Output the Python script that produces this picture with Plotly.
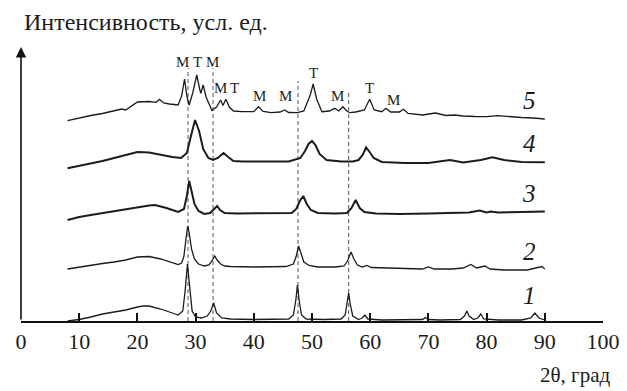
import plotly.graph_objects as go

# ---- data (intensity in arbitrary units, curves already offset) ----
x1 = [8, 10, 12, 14, 16, 18, 20, 21, 22, 24, 26, 27, 27.8, 28.2, 28.6, 29.0, 29.4, 30, 31, 32, 32.6, 33.1, 33.6, 34.5, 36, 40, 44, 46, 46.8, 47.2, 47.5, 47.8, 48.2, 49, 52, 55, 55.7, 56.0, 56.3, 56.6, 57.0, 58, 58.6, 59.1, 59.6, 62, 66, 69, 69.5, 70, 72, 75.5, 76.2, 76.6, 77.0, 77.8, 78.5, 79.0, 79.5, 82, 86, 87.6, 88.3, 89.0, 90]
y1 = [0, 1.5, 4, 7, 9, 11, 14, 15, 15, 12, 8, 6, 10, 30, 57, 30, 10, 4, 3, 5, 10, 18, 8, 3, 2, 1.5, 1.5, 2, 6, 20, 36, 20, 6, 2, 1.5, 2, 6, 16, 28, 16, 5, 1.5, 3, 6, 2, 1, 1, 1.5, 3.5, 1.5, 1, 1.5, 5, 10, 5, 1.5, 3, 7, 2, 1, 1, 3, 8, 3, 1]

x2 = [8, 10, 12, 14, 16, 18, 20, 22, 24, 25, 26, 27, 27.6, 28.0, 28.4, 28.65, 28.9, 29.3, 29.8, 30.5, 31.5, 32.3, 32.8, 33.3, 33.7, 34.3, 35, 36, 40, 44, 45.5, 46.8, 47.3, 47.7, 48.1, 48.6, 49.5, 51, 54, 55.5, 56.1, 56.7, 57.2, 57.8, 58.6, 59.4, 60.2, 62, 66, 69, 70, 71, 74, 76, 77.3, 78.3, 79.7, 80.6, 83, 87, 88.8, 89.5, 90]
y2 = [52, 54, 56, 57.5, 59, 61, 64, 64.5, 62, 60, 58, 56.5, 58, 65, 85, 95, 88, 72, 62, 57, 55, 56, 60, 65, 61, 57, 55, 54.5, 54, 54, 54.5, 57, 65, 75, 68, 59, 55.5, 54, 54, 55, 60, 69, 62, 56, 54, 55.5, 53.5, 53, 52.5, 52, 54, 52, 52, 53, 56.5, 53, 55, 52, 51, 51, 53, 54.5, 52]

x3 = [8, 10, 12, 14, 16, 18, 20, 22, 23, 25, 27, 28, 28.5, 28.9, 29.3, 29.8, 30.5, 31.5, 32.5, 33.2, 33.7, 34.2, 35, 37, 40, 44, 46.5, 47.3, 47.9, 48.5, 49.1, 49.8, 51, 54, 56, 56.8, 57.5, 58.2, 59, 61, 65, 70, 74, 77, 78.8, 80, 80.7, 82, 86, 90]
y3 = [101, 104, 106, 108, 110, 112, 114, 115.5, 116, 113, 109, 112, 125, 140, 130, 117, 110, 107, 108, 112, 115, 111, 108, 107.5, 107.5, 107.5, 108, 112, 120, 125, 117, 111, 108, 107.5, 108, 113, 121, 113, 109, 107.5, 107, 107.5, 108, 108.5, 110.5, 108.5, 109.5, 108.5, 109, 109.5]

x4 = [8, 10, 12, 14, 16, 18, 20, 22, 24, 26, 27.5, 28.5, 29.2, 29.9, 30.6, 31.3, 32.2, 33, 33.8, 34.8, 35.6, 36.5, 38, 42, 46, 48, 48.8, 49.4, 50, 50.6, 51.3, 52.5, 55, 57, 58, 58.7, 59.3, 59.9, 60.6, 62, 66, 70, 73.7, 76, 79, 81, 83, 86, 90]
y4 = [152.7, 155, 157.5, 160, 163, 166, 169, 168.5, 166, 164, 163, 168, 185, 201, 190, 172, 163, 161, 163, 168, 164, 160, 159.5, 159.5, 159.5, 163, 170, 177, 180, 176, 167, 161, 159.5, 159.5, 161, 166, 173.5, 169, 163, 159, 158, 158, 161, 158.5, 161, 163.7, 161, 159, 158.7]

x5 = [8, 10, 12, 14, 16, 17.3, 18, 20, 22, 23.2, 23.8, 24.5, 25.5, 27, 27.6, 28.1, 28.5, 28.9, 29.5, 30.2, 30.7, 30.9, 31.3, 31.8, 32.8, 33.6, 34.3, 34.7, 35.2, 35.8, 36.5, 38, 40, 40.8, 41.6, 43, 44.5, 45.3, 46, 47.5, 48.6, 49.2, 49.7, 50.2, 50.8, 51.7, 53, 53.9, 54.6, 55.3, 56, 56.5, 57.5, 59, 59.9, 60.7, 62, 62.7, 63.5, 65, 65.7, 66.5, 69, 71.2, 73, 74.5, 76, 78, 80, 81.9, 84, 86, 88, 90]
y5 = [200.3, 203, 205.5, 207.5, 210, 212, 211, 219, 219.5, 218.7, 221.7, 218, 217, 216, 225, 242, 225, 216, 228, 246, 232, 227.7, 236, 224, 210.5, 214, 221, 215.5, 221.7, 214, 210, 209.3, 209.3, 214.3, 209.5, 208.3, 209, 211, 208.5, 208.3, 210, 219.3, 226, 237, 222, 209.3, 210, 212.7, 210, 214.3, 210, 208.3, 209, 211, 221.7, 211, 209.3, 212.7, 209, 209, 211.7, 207.5, 206, 208, 205.5, 206, 205, 204.5, 204.3, 205.3, 204, 203.5, 203, 202]

curve_labels = ["1", "2", "3", "4", "5"]
curve_label_x = [87.3, 87.3, 87.3, 87.3, 87.3]
curve_label_y = [26, 70, 128, 178, 221]

dash_x = [28.7, 33.0, 47.6, 56.3]
dash_top = [253, 253, 240, 231]

peak_text = ["М", "Т", "М", "М", "Т", "М", "М", "Т", "М", "Т", "М"]
peak_x = [27.8, 30.3, 32.9, 34.2, 36.7, 41.0, 45.4, 50.2, 54.3, 59.9, 64.0]
peak_y = [259.3, 259.3, 259.3, 232.7, 232.7, 225.3, 225.3, 247.7, 225, 232.7, 221]

x_ticks = [0, 10, 20, 30, 40, 50, 60, 70, 80, 90, 100]

SERIF = "'Liberation Serif', 'Times New Roman', Tinos, 'Noto Serif', 'DejaVu Serif', serif"
INK = "#1c1c1c"

# the page body has an 8 px margin: build the figure 8 px smaller and shift
OFF = 8
FIG_W, FIG_H = 627 - OFF, 391 - OFF
ML, MR, MT, MB = 15 - OFF, 20, 41 - OFF, 70
W_PLOT = FIG_W - ML - MR
H_PLOT = FIG_H - MT - MB

def px_to_paper(px, py):
    fx, fy = px - OFF, py - OFF
    return (fx - ML) / W_PLOT, (FIG_H - MB - fy) / H_PLOT

fig = go.Figure()

for xd, top in zip(dash_x, dash_top):
    fig.add_shape(type="line", x0=xd, x1=xd, y0=0, y1=top, xref="x", yref="y",
                  line=dict(color="#555555", width=1, dash="4px,3px"), layer="below")

series = [(x1, y1, 1.3), (x2, y2, 1.3), (x3, y3, 2.0), (x4, y4, 2.0), (x5, y5, 1.3)]
for xs, ys, w in series:
    fig.add_trace(go.Scatter(x=xs, y=ys, mode="lines",
                             line=dict(color=INK, width=w), hoverinfo="skip"))

for t, xx, yy in zip(curve_labels, curve_label_x, curve_label_y):
    fig.add_annotation(x=xx, y=yy, text="<i>" + t + "</i>", showarrow=False,
                       font=dict(family=SERIF, size=25, color=INK))

for t, xx, yy in zip(peak_text, peak_x, peak_y):
    fig.add_annotation(x=xx, y=yy, text=t, showarrow=False,
                       font=dict(family=SERIF, size=15, color=INK))

# y-axis arrow
fig.add_annotation(x=0, y=274, ax=0, ay=0, xref="x", yref="y", axref="x", ayref="y",
                   text="", showarrow=True, arrowhead=2, arrowsize=1.3,
                   arrowwidth=1.6, arrowcolor="#111111")

tx, ty = px_to_paper(16, 22)
fig.add_annotation(x=tx, y=ty, xref="paper", yref="paper", text="Интенсивность, усл. ед.",
                   showarrow=False, xanchor="left", yanchor="middle",
                   font=dict(family=SERIF, size=24, color=INK))

bx, by = px_to_paper(616, 375)
fig.add_annotation(x=bx, y=by, xref="paper", yref="paper", text="2θ, град",
                   showarrow=False, xanchor="right", yanchor="middle",
                   font=dict(family=SERIF, size=21, color=INK))

fig.update_layout(
    width=FIG_W, height=FIG_H,
    margin=dict(l=ML, r=MR, t=MT, b=MB),
    paper_bgcolor="white", plot_bgcolor="white",
    showlegend=False,
    font=dict(family=SERIF),
    xaxis=dict(range=[0, 100], tickvals=x_ticks, ticks="inside", ticklen=8,
               tickwidth=2, tickcolor="#111111", showline=True, linewidth=2,
               linecolor="#111111", showgrid=False, zeroline=False,
               tickfont=dict(family=SERIF, size=22, color=INK),
               ticklabelstandoff=0),
    yaxis=dict(range=[0, 280], visible=False, showgrid=False, zeroline=False),
)

fig.write_html("out.html")
